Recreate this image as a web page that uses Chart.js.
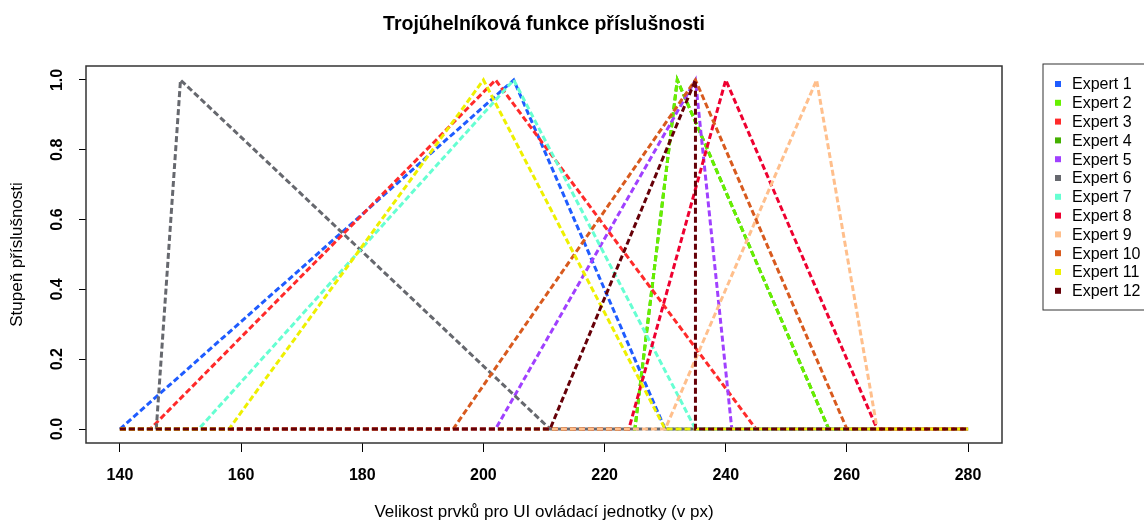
<!DOCTYPE html>
<html>
<head>
<meta charset="utf-8">
<script src="https://cdn.jsdelivr.net/npm/chart.js@4.4.0/dist/chart.umd.min.js"></script>
<style>
  html, body { margin: 0; padding: 0; background: #fff; }
  #wrap { width: 1144px; height: 523px; }
</style>
</head>
<body>
<div id="wrap"><canvas id="myChart" width="1144" height="523"></canvas></div>
<script>
// Trojúhelníkové funkce: levá pata, vrchol, pravá pata
const experti = ['Expert 1', 'Expert 2', 'Expert 3', 'Expert 4', 'Expert 5', 'Expert 6',
                 'Expert 7', 'Expert 8', 'Expert 9', 'Expert 10', 'Expert 11', 'Expert 12'];
const levaPata  = [140, 225, 145, 225, 202, 146, 153, 224, 230, 195, 158, 211];
const vrchol    = [205, 232, 202, 232, 235, 150, 205, 240, 255, 235, 200, 235];
const pravaPata = [230, 257, 245, 257, 241, 211, 235, 265, 265, 260, 230, 235];
const barvy = ['#1f5cff', '#66f000', '#ff2a2a', '#44b000', '#a040ff', '#66686e',
               '#66ffd2', '#ee0030', '#ffbf8c', '#d85a1e', '#eef000', '#660008'];

const xRozsah = [140, 280];
const xTicks = [140, 160, 180, 200, 220, 240, 260, 280];
const yTicks = [0, 0.2, 0.4, 0.6, 0.8, 1.0];

const datasets = experti.map((name, i) => ({
    label: name,
    data: [
        { x: xRozsah[0], y: 0 },
        { x: levaPata[i], y: 0 },
        { x: vrchol[i], y: 1 },
        { x: pravaPata[i], y: 0 },
        { x: xRozsah[1], y: 0 }
    ],
    // pozdější experti navrchu jako v R, Expert 4 je schovaný pod Expertem 2
    order: i === 3 ? 99 : experti.length - i,
    borderColor: barvy[i],
    backgroundColor: barvy[i],
    borderWidth: 3,
    borderDash: [6, 3],
    pointRadius: 0,
    tension: 0,
    fill: false
}));

// nadpis, rámeček a legenda ve stylu R
const rStyl = {
    id: 'rStyl',
    afterDraw(chart) {
        const { ctx, chartArea: a } = chart;
        ctx.save();
        // rámeček grafu
        ctx.strokeStyle = '#333';
        ctx.lineWidth = 1.5;
        ctx.strokeRect(a.left, a.top, a.right - a.left, a.bottom - a.top);

        // nadpis
        ctx.fillStyle = '#000';
        ctx.font = 'bold 19.5px "Liberation Sans", Arial, sans-serif';
        ctx.textAlign = 'center';
        ctx.textBaseline = 'middle';
        ctx.fillText('Trojúhelníková funkce příslušnosti', (a.left + a.right) / 2, 25);

        // legenda
        const lx = a.right + 41, ly = a.top - 2;
        ctx.strokeStyle = '#333';
        ctx.lineWidth = 1;
        ctx.strokeRect(lx, ly, 115, 246);
        ctx.font = '16px "Liberation Sans", Arial, sans-serif';
        ctx.textAlign = 'left';
        chart.data.datasets.forEach((ds, i) => {
            const y = ly + 20 + i * 18.8;
            ctx.fillStyle = ds.borderColor;
            ctx.fillRect(lx + 12, y - 3, 6, 6);
            ctx.fillStyle = '#000';
            ctx.fillText(ds.label, lx + 29, y + 1);
        });
        ctx.restore();
    }
};

const ctx = document.getElementById('myChart').getContext('2d');
new Chart(ctx, {
    type: 'line',
    data: { datasets: datasets },
    options: {
        responsive: false,
        animation: false,
        devicePixelRatio: 1,
        layout: { padding: { top: 66, right: 142, left: 0, bottom: 0 } },
        plugins: {
            legend: { display: false },
            tooltip: { enabled: false }
        },
        scales: {
            x: {
                type: 'linear',
                min: 134.4,
                max: 285.6,
                afterBuildTicks: s => { s.ticks = xTicks.map(v => ({ value: v })); },
                afterFit: s => { s.height = 80; },
                grid: { drawOnChartArea: false, drawTicks: true, tickLength: 9, color: '#000' },
                border: { display: false },
                ticks: {
                    color: '#000',
                    padding: 14,
                    maxRotation: 0,
                    font: { family: '"Liberation Sans", Arial', size: 16, weight: 'bold' }
                },
                title: {
                    display: true,
                    text: 'Velikost prvků pro UI ovládací jednotky (v px)',
                    color: '#000',
                    padding: { top: 0, bottom: 0 },
                    font: { family: '"Liberation Sans", Arial', size: 17 }
                }
            },
            y: {
                type: 'linear',
                min: -0.04,
                max: 1.04,
                afterBuildTicks: s => { s.ticks = yTicks.map(v => ({ value: v })); },
                afterFit: s => { s.width = 86; },
                grid: { drawOnChartArea: false, drawTicks: true, tickLength: 7, color: '#000' },
                border: { display: false },
                ticks: {
                    color: '#000',
                    padding: 10,
                    minRotation: 90,
                    maxRotation: 90,
                    crossAlign: 'center',
                    callback: v => v.toFixed(1),
                    font: { family: '"Liberation Sans", Arial', size: 16, weight: 'bold' }
                },
                title: {
                    display: true,
                    text: 'Stupeň příslušnosti',
                    color: '#000',
                    padding: { top: 7, bottom: 0 },
                    font: { family: '"Liberation Sans", Arial', size: 17 }
                }
            }
        }
    },
    plugins: [rStyl]
});
</script>
</body>
</html>
